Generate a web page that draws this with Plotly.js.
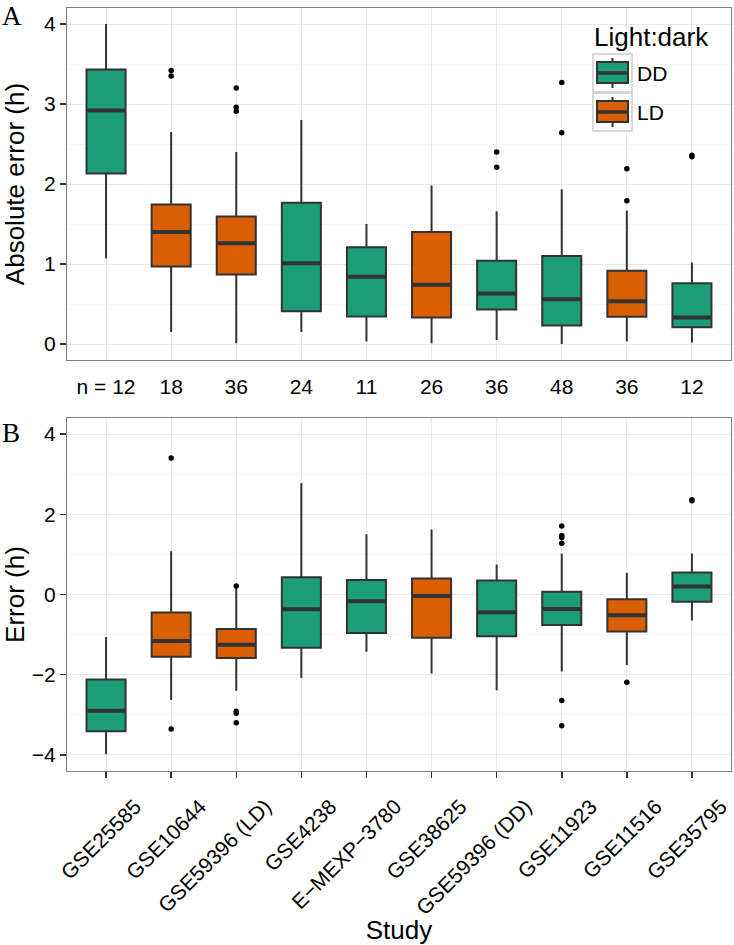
<!DOCTYPE html>
<html>
<head>
<meta charset="utf-8">
<script src="https://cdn.plot.ly/plotly-3.0.1.min.js"></script>
<style>html,body{margin:0;padding:0;background:#fff;}#chart{width:734px;height:945px;}</style>
</head>
<body>
<div id="chart"></div>
<script>
// ---------- data ----------
const categories = ["GSE25585","GSE10644","GSE59396 (LD)","GSE4238","E\u2212MEXP\u22123780","GSE38625","GSE59396 (DD)","GSE11923","GSE11516","GSE35795"];
const lightDark = ["DD","LD","LD","DD","DD","LD","DD","DD","LD","DD"];
const nSamples = [12,18,36,24,11,26,36,48,36,12];

// Panel A: absolute error (h)
const absLower  = [1.07, 0.15, 0.01, 0.15, 0.03, 0.01, 0.05, 0.00, 0.03, 0.02];
const absQ1     = [2.13, 0.97, 0.87, 0.41, 0.345, 0.33, 0.43, 0.23, 0.34, 0.21];
const absMedian = [2.92, 1.40, 1.26, 1.01, 0.84, 0.74, 0.63, 0.56, 0.535, 0.33];
const absQ3     = [3.43, 1.745, 1.595, 1.765, 1.21, 1.40, 1.04, 1.10, 0.915, 0.76];
const absUpper  = [4.00, 2.65, 2.40, 2.80, 1.50, 1.98, 1.66, 1.935, 1.67, 1.02];
const absOutliers = [[], [3.42, 3.35], [3.20, 2.96, 2.91], [], [], [], [2.40, 2.21], [3.27, 2.64], [2.19, 1.79], [2.36, 2.34]];

// Panel B: error (h)
const errLower  = [-3.98, -2.63, -2.40, -2.08, -1.43, -1.97, -2.39, -1.92, -1.76, -0.65];
const errQ1     = [-3.41, -1.55, -1.58, -1.33, -0.96, -1.08, -1.04, -0.76, -0.92, -0.18];
const errMedian = [-2.90, -1.16, -1.25, -0.37, -0.17, -0.04, -0.44, -0.36, -0.52, 0.20];
const errQ3     = [-2.12, -0.45, -0.86, 0.43, 0.36, 0.40, 0.35, 0.07, -0.12, 0.55];
const errUpper  = [-1.06, 1.08, 0.17, 2.78, 1.50, 1.62, 0.745, 1.02, 0.54, 1.02];
const errOutliers = [[], [3.40, -3.35], [0.21, -2.91, -2.96, -3.20], [], [], [], [], [1.71, 1.47, 1.42, 1.28, -2.64, -3.27], [-2.19], [2.34, 2.36]];

const groups = ["DD","LD"];
const groupColors = {DD: "#1B9E77", LD: "#D95F02"};
const legendTitle = "Light:dark";

// ---------- build traces ----------
const positions = categories.map((c, i) => i + 1);
const nLabels = nSamples.map((n, i) => i === 0 ? "n = " + n : String(n));
const boxHalf = 0.3;
const lineCol = "#333333";

function panelTraces(xa, ya, lower, q1, med, q3, upper, outliers) {
  const traces = [];
  groups.forEach(g => {
    const idx = positions.map((p, i) => i).filter(i => lightDark[i] === g);
    traces.push({
      type: "box", name: g, showlegend: false,
      xaxis: xa, yaxis: ya,
      x: idx.map(i => positions[i]),
      lowerfence: idx.map(i => lower[i]),
      q1: idx.map(i => q1[i]),
      median: idx.map(i => med[i]),
      q3: idx.map(i => q3[i]),
      upperfence: idx.map(i => upper[i]),
      width: 2 * boxHalf,
      fillcolor: groupColors[g],
      line: {color: lineCol, width: 2},
      whiskerwidth: 0,
      boxpoints: false,
      hoverinfo: "skip"
    });
  });
  // thicker median bars
  const mx = [], my = [];
  positions.forEach((p, i) => { mx.push(p - boxHalf, p + boxHalf, null); my.push(med[i], med[i], null); });
  traces.push({type: "scatter", mode: "lines", x: mx, y: my, xaxis: xa, yaxis: ya,
    line: {color: lineCol, width: 4}, showlegend: false, hoverinfo: "skip"});
  // outliers
  const ox = [], oy = [];
  outliers.forEach((arr, i) => arr.forEach(v => { ox.push(positions[i]); oy.push(v); }));
  traces.push({type: "scatter", mode: "markers", x: ox, y: oy, xaxis: xa, yaxis: ya,
    marker: {color: "#000000", size: 5.5}, showlegend: false, hoverinfo: "skip"});
  return traces;
}

const data = [].concat(
  panelTraces("x", "y", absLower, absQ1, absMedian, absQ3, absUpper, absOutliers),
  panelTraces("x2", "y2", errLower, errQ1, errMedian, errQ3, errUpper, errOutliers)
);

// ---------- ggplot-style legend (keys drawn as shapes in paper space) ----------
const M = {l: 67, r: 3, t: 8, b: 174}, W = 734, H = 945;
const PW = W - M.l - M.r, PH = H - M.t - M.b;
const px = v => (v - M.l) / PW;
const py = v => (H - M.b - v) / PH;
const shapes = [], legendAnn = [];
const keyL = 593, keyR = 632, keyTop0 = 54, keyStep = 39, keyH = 38;
groups.forEach((g, k) => {
  const t = keyTop0 + k * keyStep;
  const cx = (keyL + keyR) / 2;
  shapes.push({type: "rect", xref: "paper", yref: "paper", layer: "above",
    x0: px(keyL), x1: px(keyR), y0: py(t + keyH), y1: py(t),
    fillcolor: "#ffffff", line: {color: "#cccccc", width: 1.5}});
  shapes.push({type: "line", xref: "paper", yref: "paper", layer: "above",
    x0: px(cx), x1: px(cx), y0: py(t + 34), y1: py(t + 4), line: {color: lineCol, width: 2}});
  shapes.push({type: "rect", xref: "paper", yref: "paper", layer: "above",
    x0: px(keyL + 4), x1: px(keyR - 4), y0: py(t + 29), y1: py(t + 8),
    fillcolor: groupColors[g], line: {color: lineCol, width: 2}});
  shapes.push({type: "line", xref: "paper", yref: "paper", layer: "above",
    x0: px(keyL + 4), x1: px(keyR - 4), y0: py(t + 19), y1: py(t + 19), line: {color: lineCol, width: 3.5}});
  legendAnn.push({text: g, xref: "paper", yref: "paper", x: px(keyR + 3), y: py(t + 19),
    xanchor: "left", yanchor: "middle", showarrow: false, font: {size: 21, color: "#000"}});
});
legendAnn.push({text: legendTitle, xref: "paper", yref: "paper", x: px(keyL - 1), y: py(37),
  xanchor: "left", yanchor: "middle", showarrow: false, font: {size: 26, color: "#000"}});

// ---------- layout ----------
const fontFam = "Liberation Sans, Arial, Helvetica, sans-serif";
const gridMajor = "#e8e8e8";
const gridMinor = "#f5f5f5";
const common = {
  showline: true, mirror: true, linecolor: "#7f7f7f", linewidth: 1,
  zeroline: false, showgrid: true, gridcolor: gridMajor, gridwidth: 1,
  tickfont: {size: 21, color: "#000"}
};

const layout = {
  width: W, height: H,
  margin: M,
  paper_bgcolor: "#fff", plot_bgcolor: "#fff",
  font: {family: fontFam, color: "#000"},
  boxmode: "overlay",
  showlegend: false,
  xaxis: Object.assign({}, common, {
    domain: [0, 1], anchor: "y", range: [0.4, 10.6],
    tickmode: "array", tickvals: positions, ticktext: nLabels,
    ticks: "outside", ticklen: 8, tickcolor: "rgba(0,0,0,0)"
  }),
  yaxis: Object.assign({}, common, {
    domain: [py(360), 1], anchor: "x", range: [-0.2, 4.2],
    tick0: 0, dtick: 1, ticks: "outside", ticklen: 6, tickwidth: 1.5, tickcolor: lineCol,
    minor: {dtick: 0.5, showgrid: true, gridcolor: gridMinor, ticks: ""},
    title: {text: "Absolute error (h)", font: {size: 26}, standoff: 26}
  }),
  xaxis2: Object.assign({}, common, {
    domain: [0, 1], anchor: "y2", range: [0.4, 10.6],
    tickmode: "array", tickvals: positions, ticktext: categories,
    tickangle: -45, ticks: "outside", ticklen: 6, tickwidth: 1.5, tickcolor: lineCol,
    ticklabelshift: 29, ticklabelstandoff: 8, ticklabeloverflow: "allow",
    title: {text: "Study", font: {size: 26}}
  }),
  yaxis2: Object.assign({}, common, {
    domain: [0, py(418)], anchor: "x2", range: [-4.4, 4.4],
    tick0: 0, dtick: 2, ticks: "outside", ticklen: 6, tickwidth: 1.5, tickcolor: lineCol,
    minor: {dtick: 1, showgrid: true, gridcolor: gridMinor, ticks: ""},
    title: {text: "Error (h)", font: {size: 26}, standoff: 16}
  }),
  shapes: shapes,
  annotations: [
    {text: "A", xref: "paper", yref: "paper", x: px(12), y: py(16), xanchor: "center", yanchor: "middle",
     showarrow: false, font: {family: "Liberation Serif, Times New Roman, serif", size: 27}},
    {text: "B", xref: "paper", yref: "paper", x: px(11), y: py(433), xanchor: "center", yanchor: "middle",
     showarrow: false, font: {family: "Liberation Serif, Times New Roman, serif", size: 27}}
  ].concat(legendAnn)
};

Plotly.newPlot("chart", data, layout, {staticPlot: true, displayModeBar: false});
</script>
</body>
</html>
